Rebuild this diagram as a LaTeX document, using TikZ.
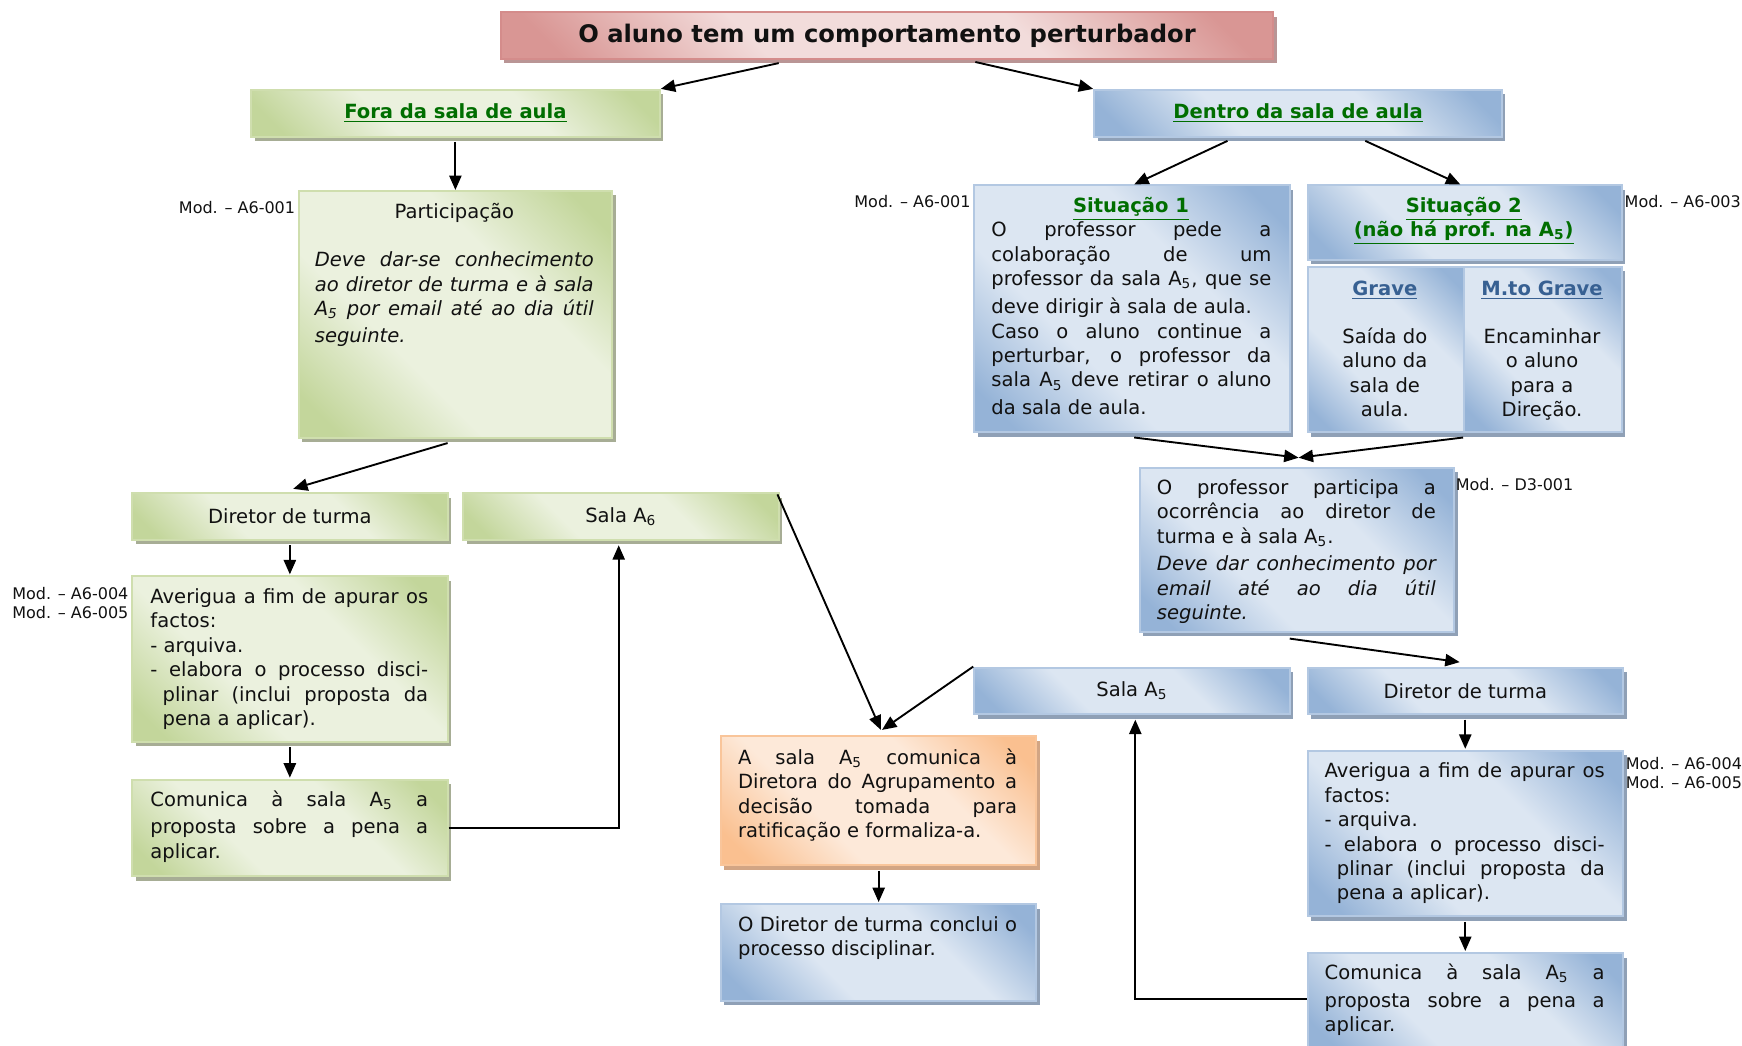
\documentclass[tikz,border=0pt]{standalone}
\usepackage{fontspec}
\setmainfont{DejaVu Sans}
\usetikzlibrary{arrows.meta,shadows,calc}
\definecolor{gL}{HTML}{EBF1DE}
\definecolor{gD}{HTML}{C3D69B}
\definecolor{gB}{HTML}{CFDEAE}
\definecolor{gS}{HTML}{A7AD95}
\definecolor{bL}{HTML}{DCE6F2}
\definecolor{bD}{HTML}{95B3D7}
\definecolor{bB}{HTML}{B3C8E2}
\definecolor{bS}{HTML}{8FA0B6}
\definecolor{pL}{HTML}{F2DCDB}
\definecolor{pD}{HTML}{D99694}
\definecolor{pB}{HTML}{D48C8B}
\definecolor{pS}{HTML}{B99595}
\definecolor{oL}{HTML}{FDE9D9}
\definecolor{oD}{HTML}{FAC090}
\definecolor{oB}{HTML}{F9C59A}
\definecolor{oS}{HTML}{D2A584}
\definecolor{hdr}{HTML}{006E00}
\definecolor{hdrb}{HTML}{376092}
\definecolor{ink}{HTML}{111111}
\pgfdeclareverticalshading{gsh}{100bp}{color(0bp)=(gD); color(20bp)=(gD); color(38bp)=(gL); color(62bp)=(gL); color(80bp)=(gD); color(100bp)=(gD)}
\pgfdeclareverticalshading{bsh}{100bp}{color(0bp)=(bD); color(20bp)=(bD); color(38bp)=(bL); color(62bp)=(bL); color(80bp)=(bD); color(100bp)=(bD)}
\pgfdeclareverticalshading{psh}{100bp}{color(0bp)=(pD); color(20bp)=(pD); color(38bp)=(pL); color(62bp)=(pL); color(80bp)=(pD); color(100bp)=(pD)}
\pgfdeclareverticalshading{osh}{100bp}{color(0bp)=(oD); color(20bp)=(oD); color(38bp)=(oL); color(62bp)=(oL); color(80bp)=(oD); color(100bp)=(oD)}
\newcommand\Asub[1]{A\textsubscript{#1}}
\newcommand\dstr{\rule[-4.6pt]{0pt}{4.6pt}}
\newcommand\bodyfont{\fontsize{8.8}{11}\selectfont}
\newcommand\modfont{\fontsize{7.2}{8.5}\selectfont}
\newcommand\ghdr[1]{\textbf{\color{hdr}\underline{#1}}}
\newcommand\bhdr[1]{\textbf{\color{hdrb}\underline{#1}}}
\hyphenpenalty=10000
\exhyphenpenalty=10000
\tolerance=10000
\begin{document}
\begin{tikzpicture}[x=0.5pt,y=-0.5pt,
  >={Triangle[length=6.5pt,width=5.5pt]},
  boxsty/.style n args={3}{rectangle, inner sep=0pt, anchor=north west,
     line width=0.9pt, draw=#2, shading=#1, shading angle=-45,
     general shadow={fill=#3, shadow xshift=1.6pt, shadow yshift=-2pt},
     text=ink, font=\bodyfont},
  gbox/.style={boxsty={gsh}{gB}{gS}},
  bbox/.style={boxsty={bsh}{bB}{bS}},
  pbox/.style={boxsty={psh}{pB}{pS}},
  obox/.style={boxsty={osh}{oB}{oS}},
  conn/.style={->, line width=0.85pt, black},
  txt/.style={inner sep=0pt, anchor=base west, text=ink, font=\bodyfont},
  ctxt/.style={inner sep=0pt, anchor=base, text=ink, font=\bodyfont},
  modl/.style={inner sep=0pt, text=ink, font=\modfont},
]
\useasboundingbox (0,0) rectangle (1568,941);

% ---------- boxes ----------
\node[pbox, minimum width=347.5pt, minimum height=21pt,
      font=\fontsize{10.9}{13}\selectfont\bfseries] (title) at (450,10)
      {O aluno tem um comportamento perturbador};
\node[gbox, minimum width=184pt, minimum height=21pt] (fora) at (225,80) {\ghdr{Fora da sala de aula}};
\node[bbox, minimum width=183.5pt, minimum height=21pt] (dentro) at (984,80) {\ghdr{Dentro da sala de aula}};

\node[gbox, minimum width=141pt, minimum height=111pt] (part) at (268,171) {};
\node[gbox, minimum width=142pt, minimum height=21pt] (dtL) at (118,443) {Diretor de turma};
\node[gbox, minimum width=142pt, minimum height=21pt] (salaA6) at (416,443) {Sala \Asub{6}};
\node[gbox, minimum width=142pt, minimum height=74.5pt] (avL) at (118,518) {};
\node[gbox, minimum width=142pt, minimum height=43.5pt] (comL) at (118,701) {};
\node[obox, minimum width=142pt, minimum height=58pt] (orange) at (648,662) {};
\node[bbox, minimum width=142pt, minimum height=43.5pt] (concl) at (648,813) {};

\node[bbox, minimum width=142pt, minimum height=111pt] (sit1) at (876,166) {};
\node[bbox, minimum width=141.5pt, minimum height=33.5pt] (sit2) at (1176,166) {};
\node[bbox, minimum width=70.5pt, minimum height=74.5pt] (grave) at (1176,239) {};
\node[bbox, minimum width=71pt, minimum height=74.5pt] (mto) at (1317,239) {};
\node[bbox, minimum width=141.5pt, minimum height=74pt] (prof) at (1025,420) {};
\node[bbox, minimum width=142pt, minimum height=21pt] (salaA5) at (876,600) {Sala \Asub{5}};
\node[bbox, minimum width=142pt, minimum height=21pt] (dtR) at (1176,600) {Diretor de turma};
\node[bbox, minimum width=142pt, minimum height=74.5pt] (avR) at (1176,675) {};
\node[bbox, minimum width=142pt, minimum height=44pt] (comR) at (1176,857) {};

% ---------- texts ----------
\node[ctxt] (part-h) at (409,197) {Participação};
\node[txt] (part-t) at (283,240) {\parbox[t]{125.5pt}{\itshape
  Deve dar-se conhecimento\linebreak ao diretor de turma e à sala\linebreak
  \Asub{5} por email até ao dia útil\dstr\linebreak seguinte.}};

\node[txt] (avL-t) at (135,543) {\parbox[t]{125pt}{%
  Averigua a fim de apurar os\linebreak factos:\par
  - arquiva.\par
  \hangindent=5.5pt\hangafter=1 - elabora o processo disci-\linebreak plinar (inclui proposta da\linebreak pena a aplicar).}};
\node[txt] (comL-t) at (135,726) {\parbox[t]{125pt}{%
  Comunica à sala \Asub{5} a\dstr\linebreak proposta sobre a pena a\linebreak aplicar.}};

\node[txt] (orange-t) at (664,688) {\parbox[t]{125.5pt}{%
  A sala \Asub{5} comunica à\linebreak Diretora do Agrupamento a\linebreak
  decisão tomada para\linebreak ratificação e formaliza-a.}};
\node[txt] (concl-t) at (664,838) {\parbox[t]{125.5pt}{%
  O Diretor de turma conclui o\linebreak processo disciplinar.}};

\node[ctxt] (sit1-h) at (1018,191) {\ghdr{Situação 1}};
\node[txt] (sit1-t) at (892,213) {\parbox[t]{126pt}{%
  O professor pede a\linebreak colaboração de um\linebreak
  professor da sala \Asub{5}, que se\dstr\linebreak deve dirigir à sala de aula.\par
  Caso o aluno continue a\linebreak perturbar, o professor da\linebreak
  sala \Asub{5} deve retirar o aluno\dstr\linebreak da sala de aula.}};

\node[ctxt] (sit2-t) at (1317.5,191) {\parbox[t]{130pt}{\centering
  \ghdr{Situação 2}\\ \ghdr{(não há prof. na \Asub{5})}}};

\node[ctxt] (grave-t) at (1246.5,266) {\parbox[t]{64pt}{\centering
  \bhdr{Grave}\\[10.5pt] Saída do\\ aluno da\\ sala de\\ aula.}};
\node[ctxt] (mto-t) at (1388,266) {\parbox[t]{64pt}{\centering
  \bhdr{M.to Grave}\\[10.5pt] Encaminhar\\ o aluno\\ para a\\ Direção.}};

\node[txt] (prof-t) at (1041,445) {\parbox[t]{125.5pt}{%
  O professor participa a\linebreak ocorrência ao diretor de\linebreak
  turma e à sala \Asub{5}.\dstr\par
  \itshape Deve dar conhecimento por\linebreak email até ao dia útil\linebreak seguinte.}};

\node[txt] (avR-t) at (1192,700) {\parbox[t]{126pt}{%
  Averigua a fim de apurar os\linebreak factos:\par
  - arquiva.\par
  \hangindent=5.5pt\hangafter=1 - elabora o processo disci-\linebreak plinar (inclui proposta da\linebreak pena a aplicar).}};
\node[txt] (comR-t) at (1192,882) {\parbox[t]{126pt}{%
  Comunica à sala \Asub{5} a\dstr\linebreak proposta sobre a pena a\linebreak aplicar.}};

% ---------- Mod labels ----------
\node[modl, anchor=mid east] (m1) at (266,187) {Mod. – A6-001};
\node[modl, anchor=mid east] (m2) at (874,181) {Mod. – A6-001};
\node[modl, anchor=mid west] (m3) at (1462,181) {Mod. – A6-003};
\node[modl, anchor=mid east] (m4a) at (116,534) {Mod. – A6-004};
\node[modl, anchor=mid east] (m4b) at (116,551) {Mod. – A6-005};
\node[modl, anchor=mid west] (m5) at (1310,436) {Mod. – D3-001};
\node[modl, anchor=mid west] (m6a) at (1463,687) {Mod. – A6-004};
\node[modl, anchor=mid west] (m6b) at (1463,704) {Mod. – A6-005};

% ---------- connectors ----------
\draw[conn] ([xshift=-48.75pt,yshift=-1.5pt]title.south) -- (fora.north east);
\draw[conn] ([xshift=39.75pt,yshift=-1pt]title.south) -- (dentro.north west);
\draw[conn] ([yshift=-2pt]fora.south) -- (part.north);
\draw[conn] ([xshift=-3.5pt,yshift=-2pt]part.south) -- ([xshift=1.5pt,yshift=1.5pt]dtL.north);
\draw[conn] ([yshift=-2pt]dtL.south) -- ([yshift=0.5pt]avL.north);
\draw[conn] ([yshift=-2pt]avL.south) -- ([yshift=0.5pt]comL.north);
\draw[conn] (comL.east) -| ([xshift=-1pt,yshift=-2pt]salaA6.south);
\draw[conn] ([xshift=-1pt,yshift=-1pt]salaA6.north east) -- ([xshift=1pt,yshift=2.5pt]orange.north);
\draw[conn] (salaA5.north west) -- ([xshift=1.5pt,yshift=2.5pt]orange.north);
\draw[conn] ([yshift=-2pt]orange.south) -- ([yshift=0.5pt]concl.north);

\draw[conn] ([xshift=-31.75pt,yshift=-1.5pt]dentro.south) -- ([xshift=1pt]sit1.north);
\draw[conn] ([xshift=30.25pt,yshift=-1.5pt]dentro.south) -- ([xshift=-2pt]sit2.north);
\draw[conn] ([xshift=1pt,yshift=-2pt]sit1.south) -- ([xshift=0.75pt,yshift=4pt]prof.north);
\draw[conn] ([yshift=-2pt]mto.south west) -- ([xshift=0.75pt,yshift=4pt]prof.north);
\draw[conn] ([xshift=-3.25pt,yshift=-2.5pt]prof.south) -- ([xshift=-2.5pt,yshift=2pt]dtR.north);
\draw[conn] ([yshift=-2pt]dtR.south) -- ([yshift=0.5pt]avR.north);
\draw[conn] ([yshift=-2pt]avR.south) -- ([yshift=0.5pt]comR.north);
\draw[conn] ([yshift=1.5pt]comR.west) -| ([xshift=1.5pt,yshift=-2pt]salaA5.south);
\end{tikzpicture}
\end{document}
